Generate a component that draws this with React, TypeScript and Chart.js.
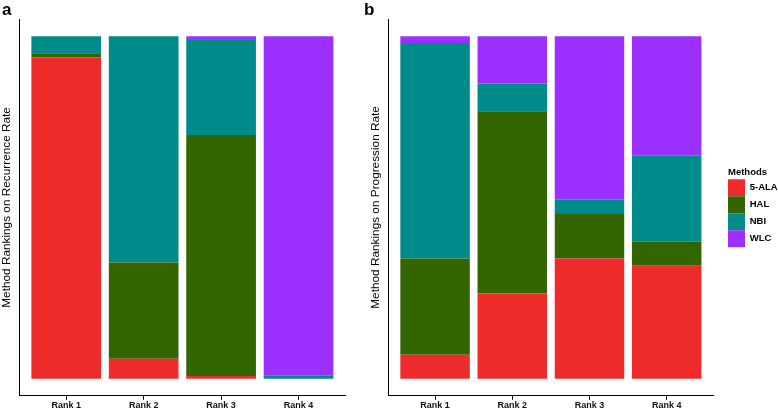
import React, { useEffect, useRef } from "react";
import { Chart, registerables } from "chart.js";

Chart.register(...registerables);

const categories = ["Rank 1", "Rank 2", "Rank 3", "Rank 4"];
const methods = ["5-ALA", "HAL", "NBI", "WLC"];
const methodColors = ["#EE2C2C", "#336600", "#008B8B", "#9B30FF"];

// Panel a: rankings on recurrence rate (probability per rank)
const recurrenceALA = [0.938, 0.058, 0.008, 0];
const recurrenceHAL = [0.012, 0.281, 0.703, 0];
const recurrenceNBI = [0.05, 0.661, 0.278, 0.01];
const recurrenceWLC = [0, 0, 0.011, 0.99];

// Panel b: rankings on progression rate
const progressionALA = [0.07, 0.249, 0.351, 0.33];
const progressionHAL = [0.281, 0.532, 0.13, 0.07];
const progressionNBI = [0.629, 0.081, 0.041, 0.251];
const progressionWLC = [0.02, 0.138, 0.478, 0.349];

const FONT = "'Liberation Sans', Arial, Helvetica, sans-serif";

type PanelProps = {
  yTitle: string;
  series: number[][];
  showLegend: boolean;
  width: number;
  left: number;
};

function Panel({ yTitle, series, showLegend, width, left }: PanelProps) {
  const ref = useRef<HTMLCanvasElement>(null);

  useEffect(() => {
    if (!ref.current) return;
    const datasets = methods.map((m, i) => ({
      label: m,
      data: series[i].map((v, j) => ({ x: j + 1, y: v })),
      backgroundColor: methodColors[i],
      borderWidth: 0,
      barPercentage: 1,
      categoryPercentage: 0.9,
    }));

    const scales: any = {
      x: {
        type: "linear",
        min: 0.4,
        max: 4.6,
        offset: false,
        stacked: true,
        afterBuildTicks: (s: any) => {
          s.ticks = categories.map((_, i) => ({ value: i + 1 }));
        },
        ticks: {
          callback: (v: any) => categories[Math.round(Number(v)) - 1],
          color: "#111",
          font: { family: FONT, size: 9, weight: "bold" },
          padding: 0.2,
          maxRotation: 0,
          autoSkip: false,
        },
        grid: {
          display: true,
          offset: false,
          drawOnChartArea: false,
          drawTicks: true,
          tickLength: 4,
          tickColor: "#000",
          tickWidth: 1,
        },
        border: { display: true, color: "#000", width: 1 },
      },
      y: {
        type: "linear",
        min: -0.05,
        max: 1.05,
        stacked: true,
        ticks: { display: false },
        grid: { display: false, drawTicks: false },
        border: { display: true, color: "#000", width: 1 },
        title: {
          display: true,
          text: yTitle,
          color: "#000",
          font: { family: FONT, size: 11.8 },
          padding: { top: 0, bottom: 5.6 },
        },
      },
    };
    if (showLegend) {
      scales.gap = {
        type: "linear",
        position: "right",
        display: true,
        ticks: { display: false },
        grid: { display: false, drawTicks: false },
        border: { display: false },
        afterFit: (s: any) => {
          s.width = 15;
        },
      };
    }

    const chart = new Chart(ref.current, {
      type: "bar",
      data: { datasets } as any,
      options: {
        animation: false,
        responsive: false,
        maintainAspectRatio: false,
        devicePixelRatio: 1,
        layout: { padding: { top: 19, right: showLegend ? 0 : 24, bottom: 0, left: 0 } },
        scales,
        plugins: {
          tooltip: { enabled: false },
          legend: {
            display: showLegend,
            position: "right",
            align: "center",
            fullSize: false,
            maxWidth: 50,
            title: {
              display: true,
              text: "Methods",
              color: "#000",
              position: "start",
              font: { family: FONT, size: 9.5, weight: "bold" },
              padding: { top: 0, bottom: 0.2 },
            },
            labels: {
              boxWidth: 17,
              boxHeight: 17,
              padding: 0,
              color: "#000",
              font: { family: FONT, size: 9.5, weight: "bold" },
            },
          },
        },
      } as any,
    });
    return () => chart.destroy();
  }, []);

  return (
    <canvas
      ref={ref}
      width={width}
      height={411}
      style={{ position: "absolute", left, top: 0, width, height: 411, display: "block" }}
    />
  );
}

export default function App() {
  const labelStyle: React.CSSProperties = {
    position: "absolute",
    top: 1,
    fontFamily: FONT,
    fontWeight: "bold",
    fontSize: 17,
    lineHeight: "17px",
    color: "#000",
  };
  return (
    <div style={{ position: "absolute", left: 0, top: 0, width: 778, height: 411, background: "#fff" }}>
      <Panel
        yTitle="Method Rankings on Recurrence Rate"
        series={[recurrenceALA, recurrenceHAL, recurrenceNBI, recurrenceWLC]}
        showLegend={false}
        width={369}
        left={0}
      />
      <Panel
        yTitle="Method Rankings on Progression Rate"
        series={[progressionALA, progressionHAL, progressionNBI, progressionWLC]}
        showLegend={true}
        width={409}
        left={369}
      />
      <div style={{ ...labelStyle, left: 2 }}>a</div>
      <div style={{ ...labelStyle, left: 364 }}>b</div>
    </div>
  );
}
